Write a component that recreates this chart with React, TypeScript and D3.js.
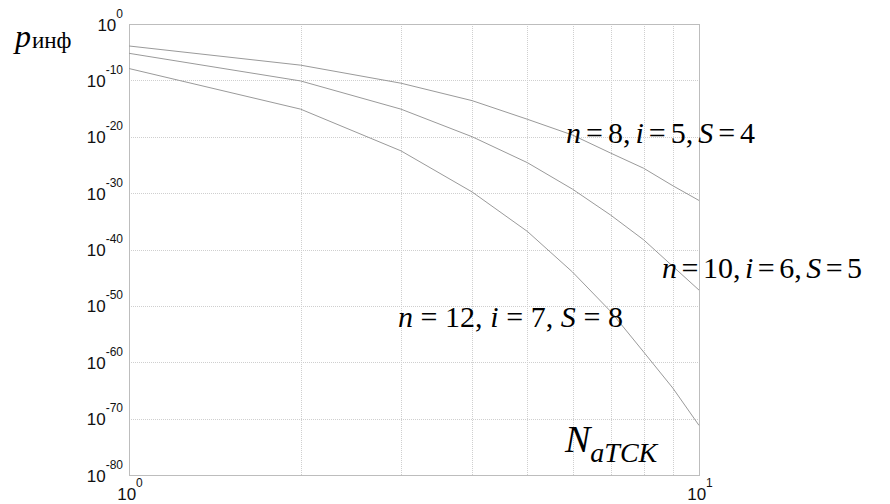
import * as d3 from "d3";

// N_aTCK values (x axis) and log10(p_инф) for each curve
const nAtck = [1, 2, 3, 4, 5, 6, 7, 8, 9, 10];
const logP_n8 = [-3.9, -7.3, -10.5, -13.6, -16.9, -19.7, -22.9, -25.6, -28.7, -31.3];
const logP_n10 = [-5.2, -10.1, -15.1, -20.0, -24.6, -29.3, -33.9, -38.3, -43.0, -47.2];
const logP_n12 = [-7.9, -15.1, -22.5, -29.8, -36.8, -44.0, -51.0, -58.2, -64.6, -71.2];

const yTickExps = [0, -10, -20, -30, -40, -50, -60, -70, -80];
const xTickExps = [0, 1];

const seriesLabels = [
  { parts: ["n", "=", "8", ",", "i", "=", "5", ",", "S", "=", "4"], x: 566, y: 143, gap: 5 },
  { parts: ["n", "=", "10", ",", "i", "=", "6", ",", "S", "=", "5"], x: 662, y: 278, gap: 4.5 },
  { parts: ["n", "=", "12", ",", "i", "=", "7", ",", "S", "=", "8"], x: 398, y: 327, gap: 7.6 },
];

const W = 890;
const H = 504;
const margin = { left: 129, top: 24, right: 191, bottom: 29 };
const SANS = "'Liberation Sans'";
const SERIF = "'Liberation Serif'";

const x = d3.scaleLog().domain([1, 10]).range([margin.left, W - margin.right]);
const y = d3.scaleLog().domain([1e-80, 1]).range([H - margin.bottom, margin.top]);
const [x0, x1] = x.range();
const [y1, y0] = y.range();
const yPos = (e: number) => y(Math.pow(10, e));
const px = (v: number) => Math.round(v) + 0.5;

const line = d3
  .line<number>()
  .x((_, i) => x(nAtck[i]))
  .y((e) => yPos(e));

function gapBefore(parts: string[], i: number) {
  return parts[i] === "=" || parts[i - 1] === "=" || parts[i - 1] === ",";
}

function Serif(props: { size: number; italic?: boolean; dx?: number; dy?: number; children: any }) {
  return (
    <tspan
      fontSize={props.size}
      dx={props.dx}
      dy={props.dy}
      style={{ fontFamily: SERIF, fontStyle: props.italic ? "italic" : "normal" }}
    >
      {props.children}
    </tspan>
  );
}

export default function App() {
  return (
    <svg width={W} height={H} style={{ position: "absolute", left: 0, top: 0 }}>
      {nAtck.slice(1, -1).map((d) => (
        <line
          key={"vx" + d}
          x1={px(x(d))}
          x2={px(x(d))}
          y1={y0}
          y2={y1}
          stroke="#cfcfcf"
          strokeDasharray="1,1"
        />
      ))}
      {yTickExps.slice(1, -1).map((e) => (
        <line
          key={"hy" + e}
          x1={x0}
          x2={x1}
          y1={px(yPos(e))}
          y2={px(yPos(e))}
          stroke="#cfcfcf"
          strokeDasharray="1,1"
        />
      ))}
      <rect
        x={x0 + 0.5}
        y={y0 + 0.5}
        width={x1 - x0}
        height={y1 - y0}
        fill="none"
        stroke="#bdbdbd"
      />
      {[logP_n8, logP_n10, logP_n12].map((s, k) => (
        <path key={k} d={line(s) ?? ""} fill="none" stroke="#9a9a9a" strokeWidth={1} />
      ))}

      {yTickExps.map((e) => (
        <text
          key={"yt" + e}
          x={x0 - 6}
          y={yPos(e) + 6.5}
          textAnchor="end"
          fill="#111"
          fontSize={17}
          style={{ fontFamily: SANS }}
        >
          10
          <tspan fontSize={12} dy={-13}>
            {e}
          </tspan>
        </text>
      ))}
      {xTickExps.map((e) => (
        <text
          key={"xt" + e}
          x={x(Math.pow(10, e)) + 1}
          y={y1 + 25}
          textAnchor="middle"
          fill="#111"
          fontSize={17}
          style={{ fontFamily: SANS }}
        >
          10
          <tspan fontSize={12} dy={-13}>
            {e}
          </tspan>
        </text>
      ))}

      {seriesLabels.map((lab) => (
        <text key={lab.x} x={lab.x} y={lab.y} fontSize={30} style={{ fontFamily: SERIF }}>
          {lab.parts.map((p, i) => (
            <Serif
              key={i}
              size={30}
              dx={gapBefore(lab.parts, i) ? lab.gap : 0}
              italic={/^[niS]$/.test(p)}
            >
              {p}
            </Serif>
          ))}
        </text>
      ))}

      <text x={15} y={47} fontSize={32} style={{ fontFamily: SERIF }}>
        <Serif size={32} italic>
          p
        </Serif>
        <Serif size={23} dx={1} dy={1}>
          инф
        </Serif>
      </text>
      <text x={565} y={452} fontSize={38} style={{ fontFamily: SERIF }}>
        <Serif size={38} italic>
          N
        </Serif>
        <Serif size={28} italic dy={10}>
          aTCK
        </Serif>
      </text>
    </svg>
  );
}
